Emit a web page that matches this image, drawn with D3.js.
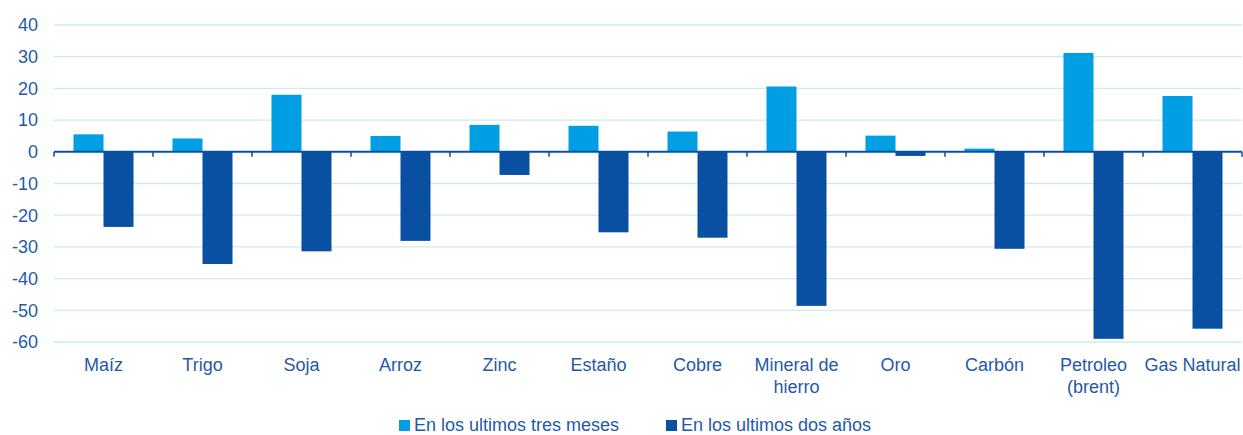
<!DOCTYPE html>
<html>
<head>
<meta charset="utf-8">
<script src="https://cdn.jsdelivr.net/npm/d3@7"></script>
<style>
  body { margin: 0; background: #fff; }
  svg text { font-family: "Liberation Sans", Arial, sans-serif; fill: #1f5aa8; }
</style>
</head>
<body>
<div id="chart-area"></div>
<script>
var categories = ["Maíz", "Trigo", "Soja", "Arroz", "Zinc", "Estaño", "Cobre",
    "Mineral de|hierro", "Oro", "Carbón", "Petroleo|(brent)", "Gas Natural"];
var tresMeses = [5.5, 4.2, 18.0, 5.0, 8.5, 8.2, 6.4, 20.6, 5.1, 1.0, 31.2, 17.6];
var dosAnos = [-23.7, -35.4, -31.4, -28.1, -7.3, -25.4, -27.1, -48.6, -1.3, -30.6, -59.0, -55.8];
var seriesNames = ["En los ultimos tres meses", "En los ultimos dos años"];
var yTicks = [40, 30, 20, 10, 0, -10, -20, -30, -40, -50, -60];

var colors = ["#009fe3", "#0a50a2"];

var W = 1243, H = 435;
var margin = { left: 54, right: 1, top: 25, bottom: 93 };
var width = W - margin.left - margin.right,
    height = H - margin.top - margin.bottom;

var svg = d3.select("#chart-area").append("svg")
    .attr("width", W).attr("height", H);
var g = svg.append("g")
    .attr("transform", "translate(" + margin.left + "," + margin.top + ")");

// scales
var x = d3.scaleBand().domain(categories).range([0, width]);
var y = d3.scaleLinear().domain([-60, 40]).range([height, 0]);
var barW = x.bandwidth() * 0.303;

// gridlines
g.selectAll(".grid").data(yTicks.filter(function(d){ return d !== 0; }))
  .enter().append("line")
    .attr("x1", 0).attr("x2", width)
    .attr("y1", function(d){ return y(d); })
    .attr("y2", function(d){ return y(d); })
    .attr("stroke", "#c9ebf8").attr("stroke-width", 1.3);

// y labels
g.selectAll(".ylab").data(yTicks).enter().append("text")
    .attr("x", -16)
    .attr("y", function(d){ return y(d); })
    .attr("dy", "0.35em")
    .attr("text-anchor", "end")
    .attr("font-size", "18px")
    .text(function(d){ return d; });

// bars
var series = [tresMeses, dosAnos];
series.forEach(function(vals, s) {
  g.selectAll(".bar" + s).data(vals).enter().append("rect")
    .attr("x", function(d, i){ return x(categories[i]) + x.bandwidth() / 2 - barW + s * barW; })
    .attr("width", barW)
    .attr("y", function(d){ return y(Math.max(0, d)); })
    .attr("height", function(d){ return Math.abs(y(d) - y(0)); })
    .attr("fill", colors[s]);
});

// zero axis with ticks
g.append("line")
    .attr("x1", 0).attr("x2", width)
    .attr("y1", y(0)).attr("y2", y(0))
    .attr("stroke", "#0a50a2").attr("stroke-width", 2);
var tickPos = categories.map(function(c){ return x(c); }).concat([width]);
g.selectAll(".tick").data(tickPos).enter().append("line")
    .attr("x1", function(d){ return d; }).attr("x2", function(d){ return d; })
    .attr("y1", y(0)).attr("y2", y(0) + 5)
    .attr("stroke", "#0a50a2").attr("stroke-width", 1.5);

// category labels
var lab = g.selectAll(".xlab").data(categories).enter().append("text")
    .attr("text-anchor", "middle")
    .attr("font-size", "18px")
    .attr("transform", function(d){
        return "translate(" + (x(d) + x.bandwidth() / 2) + "," + (height + 29) + ")"; });
lab.selectAll("tspan").data(function(d){ return d.split("|"); })
  .enter().append("tspan")
    .attr("x", 0)
    .attr("dy", function(d, i){ return i === 0 ? 0 : 22; })
    .text(function(d){ return d; });

// legend
var legX = [399, 666];
seriesNames.forEach(function(name, i) {
  svg.append("rect")
    .attr("x", legX[i]).attr("y", 420)
    .attr("width", 11).attr("height", 11)
    .attr("fill", colors[i]);
  svg.append("text")
    .attr("x", legX[i] + 15).attr("y", 431)
    .attr("font-size", "18px")
    .text(name);
});
</script>
</body>
</html>
